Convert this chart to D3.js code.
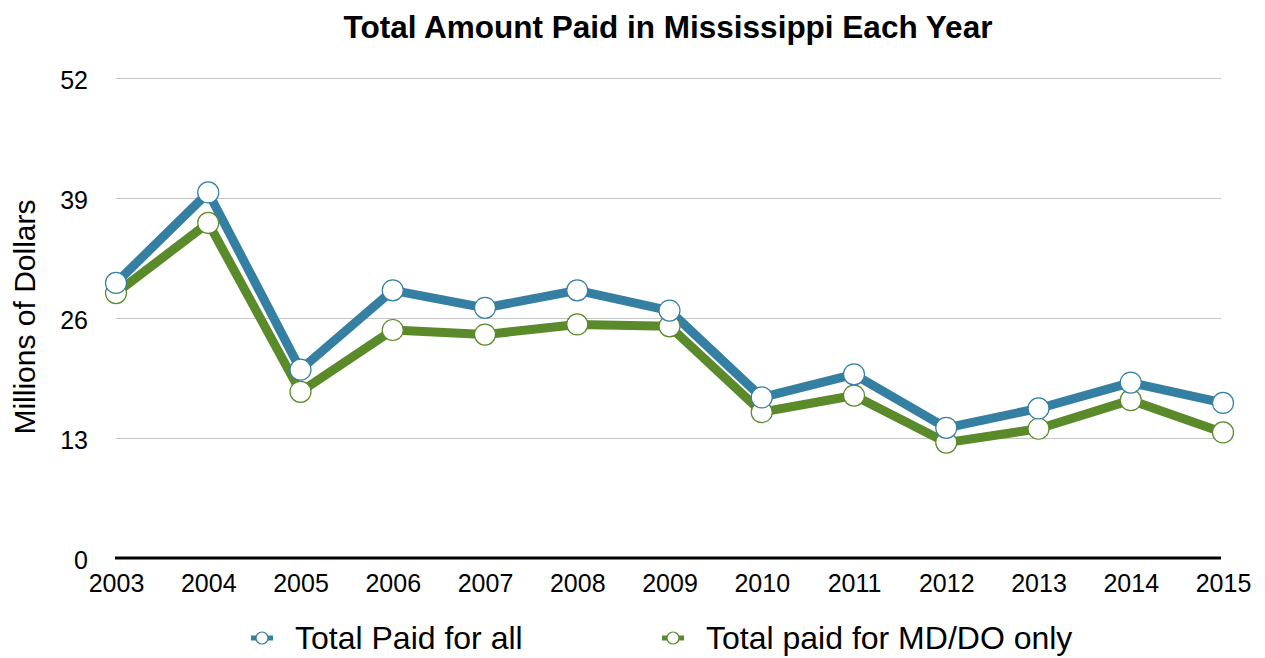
<!DOCTYPE html>
<html>
<head>
<meta charset="utf-8">
<script src="https://cdn.jsdelivr.net/npm/d3@7"></script>
<style>
  body { margin: 0; background: #fff; }
  svg { font-family: "Liberation Sans", Arial, Helvetica, sans-serif; }
</style>
</head>
<body>
<div id="chart"></div>
<script>
// data (millions of dollars)
const years = [2003, 2004, 2005, 2006, 2007, 2008, 2009, 2010, 2011, 2012, 2013, 2014, 2015];
const totalAll = [29.8, 39.6, 20.4, 29.0, 27.1, 29.0, 26.8, 17.4, 19.9, 14.1, 16.2, 19.0, 16.8];
const totalMdDo = [28.7, 36.3, 18.0, 24.7, 24.2, 25.3, 25.1, 15.8, 17.6, 12.5, 14.0, 17.1, 13.6];
const yTicks = [0, 13, 26, 39, 52];
const seriesNames = ["Total Paid for all", "Total paid for MD/DO only"];
const colors = ["#357fa3", "#5a8a2a"];

const W = 1265, H = 658;
const margin = { top: 78, right: 42, bottom: 100, left: 116 };
const width = 1223 - margin.left,
      height = 558 - margin.top;

const svg = d3.select("#chart")
  .append("svg")
  .attr("width", W)
  .attr("height", H);

const g = svg.append("g")
  .attr("transform", `translate(${margin.left},${margin.top})`);

const x = d3.scalePoint()
  .domain(years)
  .range([0, width]);

const y = d3.scaleLinear()
  .domain([0, 52])
  .range([height, 0]);

// gridlines
g.selectAll(".grid")
  .data(yTicks.filter(d => d > 0))
  .enter()
  .append("line")
  .attr("class", "grid")
  .attr("x1", 0)
  .attr("x2", width - 2)
  .attr("y1", d => y(d) + 0.5)
  .attr("y2", d => y(d) + 0.5)
  .attr("stroke", "#c4c4c4")
  .attr("stroke-width", 1);

// y axis labels
const yAxis = d3.axisLeft(y).tickValues(yTicks).tickSize(0).tickPadding(28);
g.append("g")
  .attr("class", "y-axis")
  .call(yAxis)
  .call(s => s.select(".domain").remove())
  .selectAll("text")
  .attr("dy", "0.4em")
  .style("font-size", "25px")
  .attr("fill", "#000");

// x axis
const xAxis = d3.axisBottom(x).tickSize(0).tickPadding(16).tickFormat(d3.format("d"));
g.append("g")
  .attr("class", "x-axis")
  .attr("transform", `translate(0,${height})`)
  .call(xAxis)
  .call(s => s.select(".domain").remove())
  .selectAll("text")
  .style("font-size", "25px")
  .attr("fill", "#000");

g.append("line")
  .attr("x1", -1)
  .attr("x2", width - 2)
  .attr("y1", height)
  .attr("y2", height)
  .attr("stroke", "#000")
  .attr("stroke-width", 3);

// title
svg.append("text")
  .attr("x", 668)
  .attr("y", 38)
  .attr("text-anchor", "middle")
  .style("font-size", "31.5px")
  .style("font-weight", "bold")
  .text("Total Amount Paid in Mississippi Each Year");

// y axis title
svg.append("text")
  .attr("transform", "translate(35,317) rotate(-90)")
  .attr("text-anchor", "middle")
  .style("font-size", "30px")
  .text("Millions of Dollars");

const line = d3.line()
  .x((d, i) => x(years[i]))
  .y(d => y(d));

// draw green first so blue sits on top
const series = [
  { name: seriesNames[1], values: totalMdDo, color: colors[1] },
  { name: seriesNames[0], values: totalAll, color: colors[0] }
];

series.forEach(s => {
  g.append("path")
    .datum(s.values)
    .attr("fill", "none")
    .attr("stroke", s.color)
    .attr("stroke-width", 9)
    .attr("stroke-linejoin", "round")
    .attr("d", line);
});

series.forEach(s => {
  g.selectAll(null)
    .data(s.values)
    .enter()
    .append("circle")
    .attr("cx", (d, i) => x(years[i]))
    .attr("cy", d => y(d))
    .attr("r", 10.5)
    .attr("fill", "#fff")
    .attr("stroke", s.color)
    .attr("stroke-width", 1.2);
});

// legend
const legendItems = [
  { name: seriesNames[0], color: colors[0], x: 262 },
  { name: seriesNames[1], color: colors[1], x: 673 }
];
const legend = svg.append("g").attr("transform", "translate(0,638)");
legendItems.forEach(d => {
  legend.append("line")
    .attr("x1", d.x - 11).attr("x2", d.x + 11)
    .attr("y1", 0).attr("y2", 0)
    .attr("stroke", d.color)
    .attr("stroke-width", 5);
  legend.append("circle")
    .attr("cx", d.x).attr("cy", 0)
    .attr("r", 6)
    .attr("fill", "#fff")
    .attr("stroke", d.color)
    .attr("stroke-width", 1.2);
  legend.append("text")
    .attr("x", d.x + 33)
    .attr("y", 0)
    .attr("dy", "0.35em")
    .style("font-size", "32px")
    .text(d.name);
});
</script>
</body>
</html>
